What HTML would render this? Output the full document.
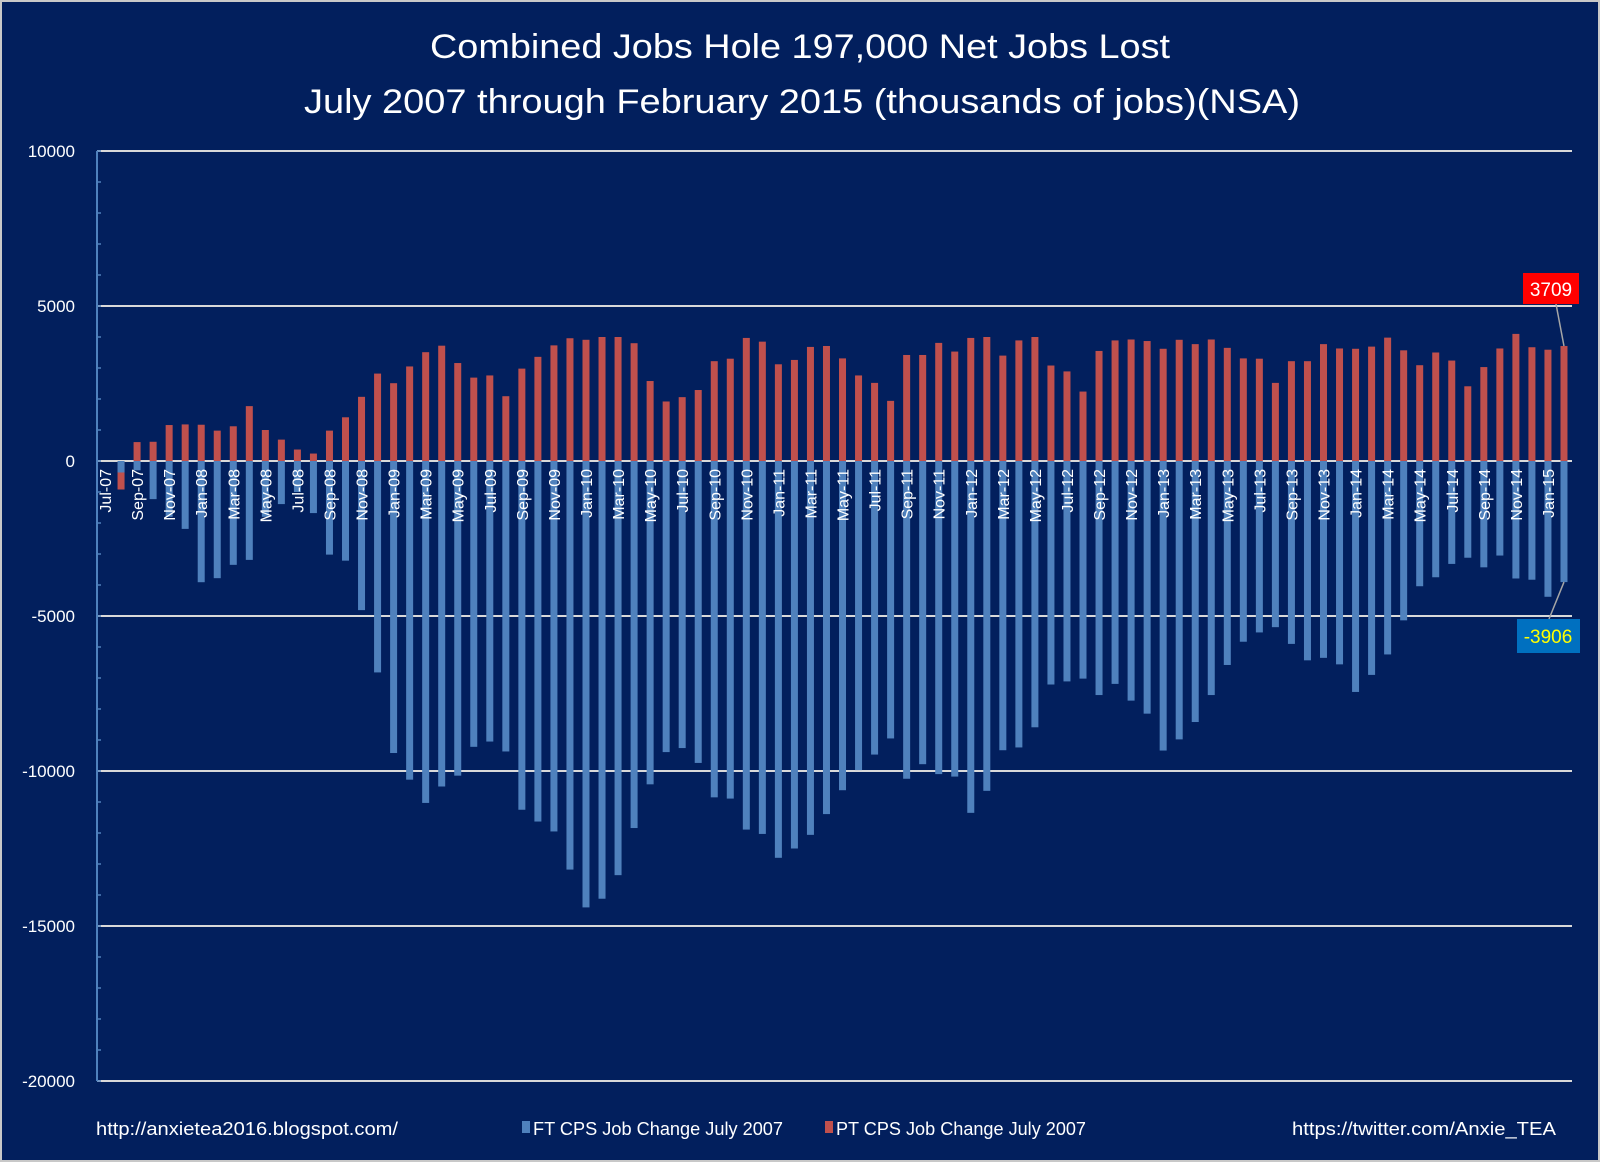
<!DOCTYPE html>
<html><head><meta charset="utf-8"><style>
html,body{margin:0;padding:0;background:#021f5d;}
svg{display:block;font-family:"Liberation Sans",sans-serif;}
</style></head><body>
<svg id="chart" width="1600" height="1162" viewBox="0 0 1600 1162" xmlns="http://www.w3.org/2000/svg">
<rect x="1" y="1" width="1598" height="1160" fill="#021f5d" stroke="#c8c8c8" stroke-width="2"/>
<text x="800" y="58" fill="#fff" font-size="34" text-anchor="middle" textLength="740" lengthAdjust="spacingAndGlyphs">Combined Jobs Hole  197,000 Net Jobs Lost</text>
<text x="802" y="113" fill="#fff" font-size="34" text-anchor="middle" textLength="996" lengthAdjust="spacingAndGlyphs">July 2007 through February 2015 (thousands of jobs)(NSA)</text>
<g id="grid"></g>
<g id="bars"></g>
<g id="xlabels"></g>
<g id="yaxis"></g>
<g id="callouts"></g>
<text x="96" y="1135" fill="#fff" font-size="18" textLength="302" lengthAdjust="spacingAndGlyphs">http://anxietea2016.blogspot.com/</text>
<rect x="522" y="1121" width="8" height="12" fill="#4f81bd"/>
<text x="533" y="1135" fill="#fff" font-size="18" textLength="250" lengthAdjust="spacingAndGlyphs">FT CPS Job Change July 2007</text>
<rect x="825" y="1121" width="8" height="12" fill="#c0504d"/>
<text x="836" y="1135" fill="#fff" font-size="18" textLength="250" lengthAdjust="spacingAndGlyphs">PT CPS Job Change July 2007</text>
<text x="1556" y="1135" fill="#fff" font-size="18" text-anchor="end" textLength="264" lengthAdjust="spacingAndGlyphs">https://twitter.com/Anxie_TEA</text>
</svg>
<script>
const months = ["Jul","Aug","Sep","Oct","Nov","Dec","Jan","Feb","Mar","Apr","May","Jun"];
const categories = [];
for (let i = 0; i < 92; i++) { const m = i % 12; const yr = 7 + Math.floor((i + 6) / 12); categories.push(months[m] + "-" + String(yr).padStart(2, "0")); }
const ftValues = [0,-370,-300,-1230,-1800,-2190,-3910,-3780,-3350,-3190,-1800,-1390,-1000,-1680,-3020,-3215,
-4810,-6820,-9420,-10280,-11030,-10500,-10150,-9220,-9050,-9370,-11250,-11630,-11950,-13180,-14400,-14120,-13360,-11840,-10430,-9390,-9260,-9740,-10850,-10890,
-11890,-12030,-12800,-12500,-12060,-11390,-10620,-9970,-9470,-8950,-10250,-9780,-10100,-10180,-11350,-10640,-9330,-9240,-8590,-7210,-7110,-7020,-7550,-7190,-7730,-8150,
-9340,-8980,-8420,-7550,-6580,-5830,-5530,-5360,-5900,-6430,-6350,-6560,-7450,-6900,-6240,-5140,-4040,-3750,-3320,-3120,-3430,-3050,-3790,-3830,-4380,-3906];
const ptValues = [0,-920,610,620,1160,1180,1170,980,1120,1770,1000,690,370,240,980,1410,
2070,2820,2510,3050,3510,3720,3160,2690,2760,2090,2980,3360,3730,3960,3910,4000,4000,3800,2580,1920,2060,2290,3220,3300,
3970,3850,3120,3260,3680,3710,3310,2760,2520,1940,3420,3420,3810,3530,3970,4000,3400,3890,4000,3080,2890,2240,3550,3890,3920,3870,
3620,3910,3770,3920,3650,3310,3300,2520,3220,3220,3770,3630,3620,3690,3980,3570,3090,3500,3240,2410,3030,3630,4100,3670,3590,3709];
const yTicks = [10000,5000,0,-5000,-10000,-15000,-20000];

const NS = "http://www.w3.org/2000/svg";
const X0 = 97, X1 = 1572, Y_TOP = 151, Y_BOT = 1081, VMAX = 10000, VMIN = -20000;
const slot = (X1 - X0) / categories.length;
function xScale(i) { return X0 + slot * (i + 0.5); }
function yScale(v) { return Y_TOP + (VMAX - v) / (VMAX - VMIN) * (Y_BOT - Y_TOP); }
function mk(tag, attrs, parent) { const e = document.createElementNS(NS, tag); for (const k in attrs) e.setAttribute(k, attrs[k]); parent.appendChild(e); return e; }

const grid = document.getElementById("grid"), yaxis = document.getElementById("yaxis");
yTicks.forEach(v => {
  const l = mk("line", {x1: X0, x2: X1, y1: yScale(v), y2: yScale(v), stroke: "#d9d9d9", "stroke-width": 2}, grid);
  
  
  const t = mk("text", {x: 75, y: yScale(v) + 6, fill: "#fff", "font-size": 17, "text-anchor": "end"}, yaxis);
  
  
  t.textContent = String(v);
});
for (let v = VMIN; v <= VMAX; v += 1000) {
  const tk = mk("line", {x1: X0, x2: X0 + 4, y1: yScale(v), y2: yScale(v), stroke: "#4f81bd", "stroke-width": 1.5}, yaxis);
  
  
}
const ax = mk("line", {x1: X0, x2: X0, y1: Y_TOP, y2: Y_BOT, stroke: "#4f81bd", "stroke-width": 2}, yaxis);



const bars = document.getElementById("bars");
const bw = 7, y0 = yScale(0);
categories.forEach((c, i) => {
  const pv = ptValues[i], yp = yScale(pv);
  const r = mk("rect", {x: xScale(i) - bw / 2, y: Math.min(yp, y0), width: bw, height: Math.abs(yp - y0), fill: "#c0504d"}, bars);
  
  
  const fv = ftValues[i], yf = yScale(fv);
  const b = mk("rect", {x: xScale(i) - bw / 2, y: Math.min(yf, y0), width: bw, height: Math.abs(yf - y0), fill: "#4f81bd"}, bars);
  
  
});

const xl = document.getElementById("xlabels");
categories.forEach((c, i) => {
  if (i % 2 !== 0) return;
  const x = xScale(i) + 6, y = y0 + 8;
  const t = mk("text", {x: x, y: y, fill: "#fff", "font-size": 16, "text-anchor": "end", transform: "rotate(-90 " + x + " " + y + ")"}, xl);
  
  
  t.textContent = c;
});

const co = document.getElementById("callouts");
const last = categories.length - 1, lx = xScale(last);
const l1 = mk("line", {x1: 1556, y1: 304, x2: lx, y2: yScale(ptValues[last]), stroke: "#a6a6a6", "stroke-width": 1.5}, co);


const rb = mk("rect", {x: 1523, y: 273, width: 56, height: 31, fill: "#ff0000"}, co);


const rt = mk("text", {x: 1551, y: 296, fill: "#fff", "font-size": 19, "text-anchor": "middle"}, co);


rt.textContent = String(ptValues[last]);
const l2 = mk("line", {x1: 1549, y1: 619, x2: lx, y2: yScale(ftValues[last]), stroke: "#a6a6a6", "stroke-width": 1.5}, co);


const bb = mk("rect", {x: 1517, y: 619, width: 63, height: 34, fill: "#0070c0"}, co);


const bt = mk("text", {x: 1548, y: 643, fill: "#ffff00", "font-size": 19, "text-anchor": "middle"}, co);


bt.textContent = String(ftValues[last]);
</script>
</body></html>
